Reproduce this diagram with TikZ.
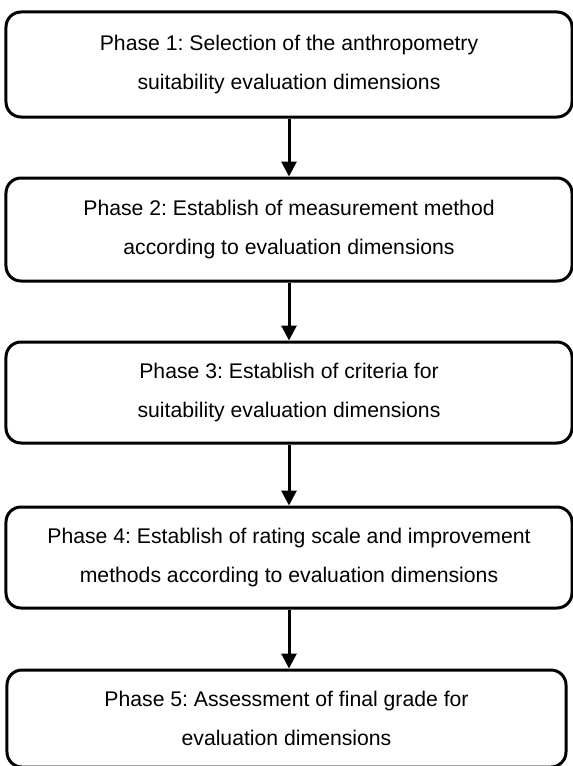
\documentclass[tikz,border=0pt]{standalone}
\usepackage{fontspec}
\setmainfont{Liberation Sans}
\frenchspacing
\usetikzlibrary{arrows.meta}
\tikzset{
	phasebox/.style={draw, line width=3bp, rounded corners=15bp, align=center, inner sep=0pt,
		font=\fontsize{21.2bp}{38.5bp}\selectfont},
	flowarrow/.style={line width=3bp, -{Triangle[width=15bp,length=15bp]}}
}

\begin{document}
\begin{tikzpicture}[x=1bp, y=1bp]
			%%%%% START %%%%%
			
			\useasboundingbox (0, 0) rectangle (573, -766);
			
			\node[phasebox, minimum width=566bp, minimum height=105bp] (p1) at (289, -64.5)
				{Phase 1: Selection of the anthropometry\\suitability evaluation dimensions};
			\node[phasebox, minimum width=566bp, minimum height=103bp] (p2) at (289, -229.5)
				{Phase 2: Establish of measurement method\\according to evaluation dimensions};
			\node[phasebox, minimum width=566bp, minimum height=101bp] (p3) at (289, -392.5)
				{Phase 3: Establish of criteria for\\suitability evaluation dimensions};
			\node[phasebox, minimum width=566bp, minimum height=101bp] (p4) at (289, -557.5)
				{Phase 4: Establish of rating scale and improvement\\methods according to evaluation dimensions};
			\node[phasebox, minimum width=559bp, minimum height=97bp] (p5) at (286.5, -718.5)
				{Phase 5: Assessment of final grade for\\evaluation dimensions};
			
			\draw[flowarrow] (p1.south) -- (p2.north);
			\draw[flowarrow] (p2.south) -- (p3.north);
			\draw[flowarrow] (p3.south) -- (p4.north);
			\draw[flowarrow] (p4.south) -- (p4.south |- p5.north);
			
			%%%%% END %%%%%
		\end{tikzpicture}
\end{document}
